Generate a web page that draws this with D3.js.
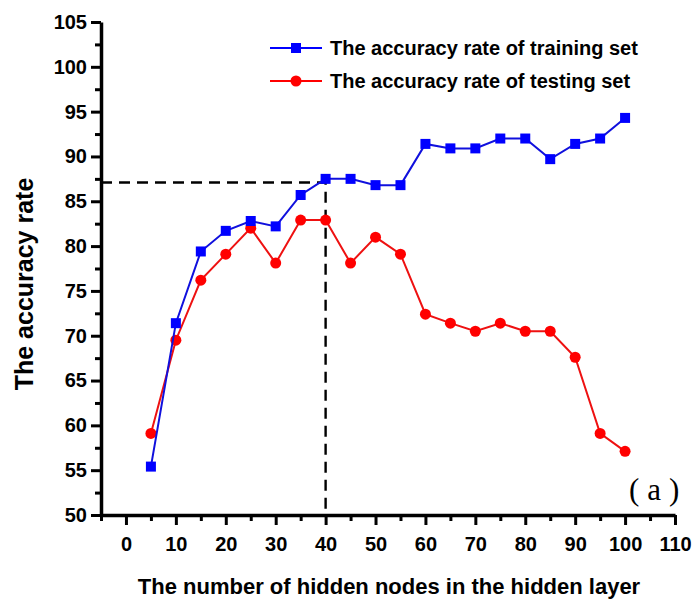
<!DOCTYPE html>
<html>
<head>
<meta charset="utf-8">
<script src="https://cdn.jsdelivr.net/npm/d3@7"></script>
<style>
  body { margin: 0; background: #fff; }
  svg { display: block; font-family: "Liberation Sans", Arial, sans-serif; }
</style>
</head>
<body>
<svg width="699" height="606"></svg>
<script>
// Hidden nodes and the two accuracy series
const nodes = [5, 10, 15, 20, 25, 30, 35, 40, 45, 50, 55, 60, 65, 70, 75, 80, 85, 90, 95, 100];
const trainAcc = [55.4, 71.4, 79.4, 81.7, 82.8, 82.2, 85.7, 87.5, 87.5, 86.8, 86.8, 91.4, 90.9, 90.9, 92.0, 92.0, 89.7, 91.4, 92.0, 94.3];
const testAcc = [59.1, 69.5, 76.2, 79.1, 82.0, 78.1, 82.9, 82.9, 78.1, 81.0, 79.1, 72.4, 71.4, 70.5, 71.4, 70.5, 70.5, 67.6, 59.1, 57.1];
const xTicks = [0, 10, 20, 30, 40, 50, 60, 70, 80, 90, 100, 110];
const yTicks = [50, 55, 60, 65, 70, 75, 80, 85, 90, 95, 100, 105];
const seriesNames = ["The accuracy rate of training set", "The accuracy rate of testing set"];
const bestNodes = 40, bestAcc = 87.1;

(function () {
    const svg = d3.select("svg");

    const x = d3.scaleLinear().domain([-5, 110]).range([101, 675]);
    const y = d3.scaleLinear().domain([50, 105]).range([515, 22]);

    // minor ticks first so major ones sit on top
    const xMinor = d3.range(-5, 110, 10);
    const yMinor = d3.range(52.5, 105, 5);

    function styleAxis(g) {
        g.select(".domain").attr("stroke", "#000").attr("stroke-width", 3.5);
        g.selectAll(".tick line").attr("stroke", "#000").attr("stroke-width", 3);
        g.selectAll("text")
            .attr("fill", "#000")
            .style("font-size", "20px")
            .style("font-weight", "bold");
    }

    svg.append("g")
        .attr("transform", "translate(0,515)")
        .call(d3.axisBottom(x).tickValues(xMinor).tickSize(6).tickSizeOuter(0).tickFormat(""))
        .call(g => g.select(".domain").remove())
        .call(g => g.selectAll(".tick line").attr("stroke", "#000").attr("stroke-width", 3));

    svg.append("g")
        .attr("transform", "translate(101,0)")
        .call(d3.axisLeft(y).tickValues(yMinor).tickSize(6).tickSizeOuter(0).tickFormat(""))
        .call(g => g.select(".domain").remove())
        .call(g => g.selectAll(".tick line").attr("stroke", "#000").attr("stroke-width", 3));

    svg.append("g")
        .attr("transform", "translate(0,515)")
        .call(d3.axisBottom(x).tickValues(xTicks).tickSize(10).tickSizeOuter(0).tickPadding(12))
        .call(styleAxis);

    svg.append("g")
        .attr("transform", "translate(101,0)")
        .call(d3.axisLeft(y).tickValues(yTicks).tickSize(10).tickSizeOuter(0).tickPadding(4))
        .call(styleAxis);

    // axis titles
    svg.append("text")
        .attr("x", 389)
        .attr("y", 594)
        .attr("text-anchor", "middle")
        .style("font-size", "22px")
        .style("font-weight", "bold")
        .text("The number of hidden nodes in the hidden layer");

    svg.append("text")
        .attr("transform", "translate(33,284) rotate(-90)")
        .attr("text-anchor", "middle")
        .style("font-size", "25px")
        .style("font-weight", "bold")
        .text("The accuracy rate");

    // dashed guide lines at the chosen node count
    const guide = d3.path();
    guide.moveTo(x(-5), y(bestAcc));
    guide.lineTo(x(bestNodes), y(bestAcc));
    guide.lineTo(x(bestNodes), y(50));
    svg.append("path")
        .attr("d", guide.toString())
        .attr("fill", "none")
        .attr("stroke", "#000")
        .attr("stroke-width", 2.4)
        .attr("stroke-dasharray", "11,7");

    const line = d3.line().x(d => x(d[0])).y(d => y(d[1]));
    const trainPts = nodes.map((n, i) => [n, trainAcc[i]]);
    const testPts = nodes.map((n, i) => [n, testAcc[i]]);

    svg.append("path")
        .datum(testPts)
        .attr("d", line)
        .attr("fill", "none")
        .attr("stroke", "#ee1111")
        .attr("stroke-width", 2);

    svg.append("g")
        .selectAll("circle")
        .data(testPts)
        .enter()
        .append("circle")
        .attr("cx", d => x(d[0]))
        .attr("cy", d => y(d[1]))
        .attr("r", 5.5)
        .attr("fill", "#ff0000");

    svg.append("path")
        .datum(trainPts)
        .attr("d", line)
        .attr("fill", "none")
        .attr("stroke", "#1010dd")
        .attr("stroke-width", 2);

    svg.append("g")
        .selectAll("rect")
        .data(trainPts)
        .enter()
        .append("rect")
        .attr("x", d => x(d[0]) - 5)
        .attr("y", d => y(d[1]) - 5)
        .attr("width", 10)
        .attr("height", 10)
        .attr("fill", "#0000ff");

    // legend
    const legend = svg.append("g");
    [0, 1].forEach(i => {
        const ly = 48 + i * 33;
        const col = i === 0 ? "#0000ff" : "#ff0000";
        legend.append("line")
            .attr("x1", 270).attr("x2", 322)
            .attr("y1", ly).attr("y2", ly)
            .attr("stroke", col)
            .attr("stroke-width", 2);
        if (i === 0) {
            legend.append("rect")
                .attr("x", 291).attr("y", ly - 5)
                .attr("width", 10).attr("height", 10)
                .attr("fill", col);
        } else {
            legend.append("circle")
                .attr("cx", 296).attr("cy", ly)
                .attr("r", 5.5)
                .attr("fill", col);
        }
        legend.append("text")
            .attr("x", 330)
            .attr("y", ly + 7)
            .style("font-size", "20px")
            .style("font-weight", "bold")
            .text(seriesNames[i]);
    });

    // panel label
    svg.append("text")
        .attr("x", 629)
        .attr("y", 500)
        .style("font-family", "'Liberation Serif', 'DejaVu Serif', serif")
        .style("font-size", "31px")
        .style("letter-spacing", "8px")
        .text("(a)");
})();
</script>
</body>
</html>
